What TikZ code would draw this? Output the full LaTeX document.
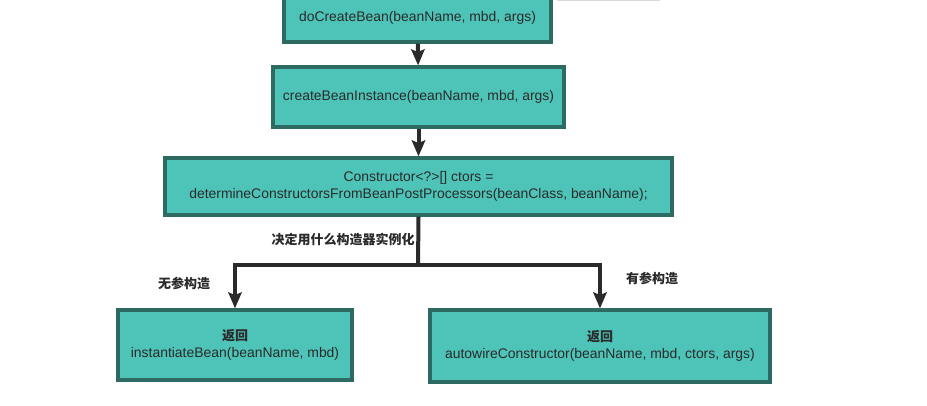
\documentclass[tikz,border=0pt]{standalone}
\usepackage{fontspec}
\setmainfont{Liberation Sans}
\newfontfamily\cjk{Noto Sans CJK SC}
\usetikzlibrary{arrows.meta}
\definecolor{boxfill}{HTML}{4EC4B8}
\definecolor{boxline}{HTML}{2C6A62}
\definecolor{ink}{HTML}{2A2A2A}
\begin{document}
\begin{tikzpicture}[x=0.75pt,y=-0.75pt,
  box/.style={draw=boxline,line width=2.4pt,fill=boxfill,text=ink,align=center,
    inner sep=0pt,font=\fontsize{10.45}{12.75}\selectfont},
  arr/.style={draw=ink,line width=3pt,-{Stealth[width=10pt,length=12pt,inset=2pt]}},
  lbl/.style={text=ink,inner sep=0pt,font=\cjk\bfseries\fontsize{9.75}{12.75}\selectfont}]
\useasboundingbox (0,0) rectangle (927,406);
\begin{scope}
\clip (0,0) rectangle (927,406);
\draw[gray!30,line width=0.8pt] (557,0.6) -- (660,0.6);
% boxes
\node[box,minimum width=267*0.75pt,minimum height=48*0.75pt] (create) at (417.5,18) {doCreateBean(beanName, mbd, args)};
\node[box,minimum width=291*0.75pt,minimum height=60*0.75pt] (instance) at (418.5,97) {createBeanInstance(beanName, mbd, args)};
\node[box,minimum width=507*0.75pt,minimum height=57*0.75pt] (ctors) at (418.5,186.5) {Constructor<?>[] ctors =\\determineConstructorsFromBeanPostProcessors(beanClass, beanName);};
\node[box,minimum width=234*0.75pt,minimum height=70*0.75pt] (noarg) at (235,345) {{\cjk\bfseries\fontsize{9.75}{12.75}\selectfont 返回}\\instantiateBean(beanName, mbd)};
\node[box,minimum width=340*0.75pt,minimum height=72*0.75pt] (witharg) at (600,346) {{\cjk\bfseries\fontsize{9.75}{12.75}\selectfont 返回}\\autowireConstructor(beanName, mbd, ctors, args)};
\coordinate (split) at (418,265);
% connectors
\draw[arr] (create) -- (instance);
\draw[arr] (instance) -- (ctors);
\draw[draw=ink,line width=3pt] (ctors.south) -- (split);
\draw[arr] (split) -| (noarg.north);
\draw[arr] (split) -| (witharg.north);
% labels
\node[lbl,anchor=east] (decide) at (415,239) {决定用什么构造器实例化};
\node[lbl] (nolbl) at (184,283) {无参构造};
\node[lbl] (withlbl) at (652,278) {有参构造};
\end{scope}
\end{tikzpicture}
\end{document}
